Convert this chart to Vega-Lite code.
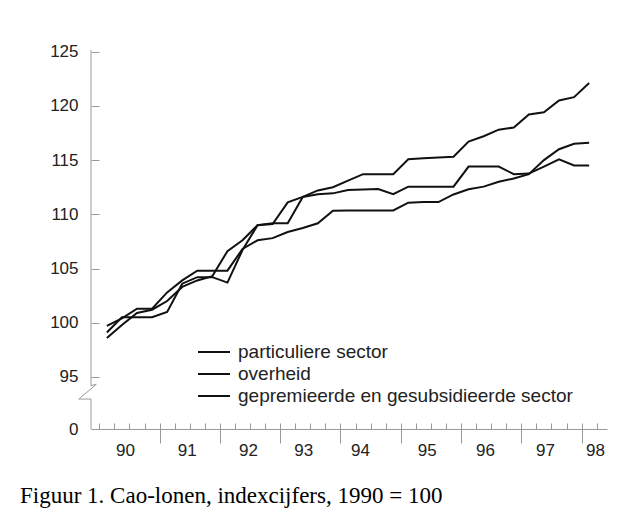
{
  "$schema": "https://vega.github.io/schema/vega-lite/v6.json",
  "width": 516,
  "height": 379,
  "autosize": "none",
  "padding": {"left": 91, "top": 50, "right": 31, "bottom": 95},
  "background": "#ffffff",
  "config": {"view": {"stroke": null}},
  "title": {
    "text": "Figuur 1. Cao-lonen, indexcijfers, 1990 = 100",
    "orient": "bottom",
    "anchor": "start",
    "frame": "group",
    "font": "Liberation Serif",
    "fontSize": 23,
    "fontWeight": "normal",
    "color": "#000000",
    "dx": -71,
    "offset": 27
  },
  "datasets": {
    "series": [
      {"t": 1990.125, "v": 98.6, "s": "particuliere sector"},
      {"t": 1990.375, "v": 99.8, "s": "particuliere sector"},
      {"t": 1990.625, "v": 100.9, "s": "particuliere sector"},
      {"t": 1990.875, "v": 101.2, "s": "particuliere sector"},
      {"t": 1991.125, "v": 102.0, "s": "particuliere sector"},
      {"t": 1991.375, "v": 103.3, "s": "particuliere sector"},
      {"t": 1991.625, "v": 103.9, "s": "particuliere sector"},
      {"t": 1991.875, "v": 104.3, "s": "particuliere sector"},
      {"t": 1992.125, "v": 106.6, "s": "particuliere sector"},
      {"t": 1992.375, "v": 107.6, "s": "particuliere sector"},
      {"t": 1992.625, "v": 109.0, "s": "particuliere sector"},
      {"t": 1992.875, "v": 109.1, "s": "particuliere sector"},
      {"t": 1993.125, "v": 111.1, "s": "particuliere sector"},
      {"t": 1993.375, "v": 111.6, "s": "particuliere sector"},
      {"t": 1993.625, "v": 112.2, "s": "particuliere sector"},
      {"t": 1993.875, "v": 112.5, "s": "particuliere sector"},
      {"t": 1994.125, "v": 113.1, "s": "particuliere sector"},
      {"t": 1994.375, "v": 113.7, "s": "particuliere sector"},
      {"t": 1994.625, "v": 113.7, "s": "particuliere sector"},
      {"t": 1994.875, "v": 113.7, "s": "particuliere sector"},
      {"t": 1995.125, "v": 115.07, "s": "particuliere sector"},
      {"t": 1995.375, "v": 115.16, "s": "particuliere sector"},
      {"t": 1995.625, "v": 115.24, "s": "particuliere sector"},
      {"t": 1995.875, "v": 115.3, "s": "particuliere sector"},
      {"t": 1996.125, "v": 116.7, "s": "particuliere sector"},
      {"t": 1996.375, "v": 117.2, "s": "particuliere sector"},
      {"t": 1996.625, "v": 117.8, "s": "particuliere sector"},
      {"t": 1996.875, "v": 118.0, "s": "particuliere sector"},
      {"t": 1997.125, "v": 119.2, "s": "particuliere sector"},
      {"t": 1997.375, "v": 119.4, "s": "particuliere sector"},
      {"t": 1997.625, "v": 120.5, "s": "particuliere sector"},
      {"t": 1997.875, "v": 120.8, "s": "particuliere sector"},
      {"t": 1998.125, "v": 122.1, "s": "particuliere sector"},
      {"t": 1990.125, "v": 99.1, "s": "overheid"},
      {"t": 1990.375, "v": 100.5, "s": "overheid"},
      {"t": 1990.625, "v": 100.5, "s": "overheid"},
      {"t": 1990.875, "v": 100.5, "s": "overheid"},
      {"t": 1991.125, "v": 101.0, "s": "overheid"},
      {"t": 1991.375, "v": 103.6, "s": "overheid"},
      {"t": 1991.625, "v": 104.2, "s": "overheid"},
      {"t": 1991.875, "v": 104.2, "s": "overheid"},
      {"t": 1992.125, "v": 103.7, "s": "overheid"},
      {"t": 1992.375, "v": 106.7, "s": "overheid"},
      {"t": 1992.625, "v": 109.0, "s": "overheid"},
      {"t": 1992.875, "v": 109.17, "s": "overheid"},
      {"t": 1993.125, "v": 109.17, "s": "overheid"},
      {"t": 1993.375, "v": 111.6, "s": "overheid"},
      {"t": 1993.625, "v": 111.84, "s": "overheid"},
      {"t": 1993.875, "v": 111.93, "s": "overheid"},
      {"t": 1994.125, "v": 112.24, "s": "overheid"},
      {"t": 1994.375, "v": 112.29, "s": "overheid"},
      {"t": 1994.625, "v": 112.33, "s": "overheid"},
      {"t": 1994.875, "v": 111.85, "s": "overheid"},
      {"t": 1995.125, "v": 112.55, "s": "overheid"},
      {"t": 1995.375, "v": 112.55, "s": "overheid"},
      {"t": 1995.625, "v": 112.55, "s": "overheid"},
      {"t": 1995.875, "v": 112.55, "s": "overheid"},
      {"t": 1996.125, "v": 114.4, "s": "overheid"},
      {"t": 1996.375, "v": 114.4, "s": "overheid"},
      {"t": 1996.625, "v": 114.4, "s": "overheid"},
      {"t": 1996.875, "v": 113.7, "s": "overheid"},
      {"t": 1997.125, "v": 113.75, "s": "overheid"},
      {"t": 1997.375, "v": 114.4, "s": "overheid"},
      {"t": 1997.625, "v": 115.07, "s": "overheid"},
      {"t": 1997.875, "v": 114.5, "s": "overheid"},
      {"t": 1998.125, "v": 114.5, "s": "overheid"},
      {"t": 1990.125, "v": 99.7, "s": "gepremieerde en gesubsidieerde sector"},
      {"t": 1990.375, "v": 100.4, "s": "gepremieerde en gesubsidieerde sector"},
      {"t": 1990.625, "v": 101.3, "s": "gepremieerde en gesubsidieerde sector"},
      {"t": 1990.875, "v": 101.3, "s": "gepremieerde en gesubsidieerde sector"},
      {"t": 1991.125, "v": 102.8, "s": "gepremieerde en gesubsidieerde sector"},
      {"t": 1991.375, "v": 103.9, "s": "gepremieerde en gesubsidieerde sector"},
      {"t": 1991.625, "v": 104.8, "s": "gepremieerde en gesubsidieerde sector"},
      {"t": 1991.875, "v": 104.8, "s": "gepremieerde en gesubsidieerde sector"},
      {"t": 1992.125, "v": 104.8, "s": "gepremieerde en gesubsidieerde sector"},
      {"t": 1992.375, "v": 106.8, "s": "gepremieerde en gesubsidieerde sector"},
      {"t": 1992.625, "v": 107.6, "s": "gepremieerde en gesubsidieerde sector"},
      {"t": 1992.875, "v": 107.8, "s": "gepremieerde en gesubsidieerde sector"},
      {"t": 1993.125, "v": 108.37, "s": "gepremieerde en gesubsidieerde sector"},
      {"t": 1993.375, "v": 108.74, "s": "gepremieerde en gesubsidieerde sector"},
      {"t": 1993.625, "v": 109.17, "s": "gepremieerde en gesubsidieerde sector"},
      {"t": 1993.875, "v": 110.33, "s": "gepremieerde en gesubsidieerde sector"},
      {"t": 1994.125, "v": 110.35, "s": "gepremieerde en gesubsidieerde sector"},
      {"t": 1994.375, "v": 110.35, "s": "gepremieerde en gesubsidieerde sector"},
      {"t": 1994.625, "v": 110.35, "s": "gepremieerde en gesubsidieerde sector"},
      {"t": 1994.875, "v": 110.35, "s": "gepremieerde en gesubsidieerde sector"},
      {"t": 1995.125, "v": 111.07, "s": "gepremieerde en gesubsidieerde sector"},
      {"t": 1995.375, "v": 111.13, "s": "gepremieerde en gesubsidieerde sector"},
      {"t": 1995.625, "v": 111.13, "s": "gepremieerde en gesubsidieerde sector"},
      {"t": 1995.875, "v": 111.83, "s": "gepremieerde en gesubsidieerde sector"},
      {"t": 1996.125, "v": 112.3, "s": "gepremieerde en gesubsidieerde sector"},
      {"t": 1996.375, "v": 112.55, "s": "gepremieerde en gesubsidieerde sector"},
      {"t": 1996.625, "v": 113.0, "s": "gepremieerde en gesubsidieerde sector"},
      {"t": 1996.875, "v": 113.3, "s": "gepremieerde en gesubsidieerde sector"},
      {"t": 1997.125, "v": 113.7, "s": "gepremieerde en gesubsidieerde sector"},
      {"t": 1997.375, "v": 115.0, "s": "gepremieerde en gesubsidieerde sector"},
      {"t": 1997.625, "v": 116.0, "s": "gepremieerde en gesubsidieerde sector"},
      {"t": 1997.875, "v": 116.5, "s": "gepremieerde en gesubsidieerde sector"},
      {"t": 1998.125, "v": 116.6, "s": "gepremieerde en gesubsidieerde sector"}
    ],
    "yaxisline": [
      {"bx": 1989.862, "by": 125.15, "o": 1},
      {"bx": 1989.862, "by": 94.2, "o": 2},
      {"bx": 1989.95, "by": 94.32, "o": 3},
      {"bx": 1989.66, "by": 92.96, "o": 4},
      {"bx": 1989.862, "by": 92.96, "o": 5},
      {"bx": 1989.862, "by": 90.2, "o": 6}
    ]
  },
  "resolve": {"axis": {"x": "independent"}},
  "layer": [
    {
      "data": {"name": "yaxisline"},
      "mark": {"type": "line", "color": "#9a9a9a", "strokeWidth": 1, "clip": false},
      "encoding": {
        "x": {
          "field": "bx", "type": "quantitative",
          "scale": {"domain": [1989.862, 1998.421], "nice": false, "zero": false},
          "axis": {
            "orient": "bottom",
            "values": [1991, 1992, 1993, 1994, 1995, 1996, 1997, 1998],
            "domain": false, "labels": false, "grid": false, "title": null,
            "ticks": true, "tickSize": 14, "tickColor": "#9a9a9a", "tickWidth": 1
          }
        },
        "y": {
          "field": "by", "type": "quantitative",
          "scale": {"domain": [90.2, 125.15], "nice": false, "zero": false},
          "axis": {
            "orient": "left",
            "values": [90.2, 95, 100, 105, 110, 115, 120, 125],
            "labelExpr": "datum.value < 91 ? '0' : datum.label",
            "domain": false, "grid": false, "title": null,
            "ticks": true, "tickSize": -8, "tickColor": "#9a9a9a", "tickWidth": 1,
            "labelFont": "Liberation Sans", "labelFontSize": 17, "labelColor": "#222222",
            "labelPadding": 21
          }
        },
        "order": {"field": "o", "type": "quantitative"}
      }
    },
    {
      "data": {"name": "yaxisline"},
      "mark": {"type": "point", "opacity": 0},
      "encoding": {
        "x": {
          "field": "bx", "type": "quantitative",
          "axis": {
            "orient": "bottom",
            "values": [1990.426, 1991.449, 1992.466, 1993.383, 1994.324, 1995.43, 1996.397, 1997.392, 1998.222],
            "labelExpr": "floor(datum.value) - 1900",
            "domain": false, "ticks": false, "grid": false, "title": null,
            "labelFont": "Liberation Sans", "labelFontSize": 17, "labelColor": "#222222",
            "labelPadding": 13, "labelFlush": false, "labelOverlap": false
          }
        },
        "y": {"field": "by", "type": "quantitative"}
      }
    },
    {
      "data": {"name": "series"},
      "mark": {"type": "line", "strokeWidth": 2, "color": "#111111"},
      "encoding": {
        "x": {
          "field": "t", "type": "quantitative",
          "axis": {
            "orient": "bottom",
            "values": [1990, 1990.25, 1990.5, 1990.75, 1991, 1991.25, 1991.5, 1991.75, 1992, 1992.25, 1992.5, 1992.75, 1993, 1993.25, 1993.5, 1993.75, 1994, 1994.25, 1994.5, 1994.75, 1995, 1995.25, 1995.5, 1995.75, 1996, 1996.25, 1996.5, 1996.75, 1997, 1997.25, 1997.5, 1997.75, 1998, 1998.25],
            "labels": false, "grid": false, "title": null,
            "domain": true, "domainColor": "#9a9a9a", "domainWidth": 1,
            "ticks": true, "tickSize": -6, "tickColor": "#9a9a9a", "tickWidth": 1
          }
        },
        "y": {"field": "v", "type": "quantitative"},
        "color": {
          "field": "s", "type": "nominal",
          "scale": {
            "domain": ["particuliere sector", "overheid", "gepremieerde en gesubsidieerde sector"],
            "range": ["#111111", "#111111", "#111111"]
          },
          "legend": {
            "orient": "none", "legendX": 106, "legendY": 291,
            "title": null, "padding": 0,
            "symbolType": "stroke", "symbolSize": 1024, "symbolStrokeWidth": 2,
            "labelFont": "Liberation Sans", "labelFontSize": 19, "labelColor": "#222222",
            "labelOffset": 7, "rowPadding": 0, "clipHeight": 22, "labelLimit": 0
          }
        }
      }
    }
  ]
}
